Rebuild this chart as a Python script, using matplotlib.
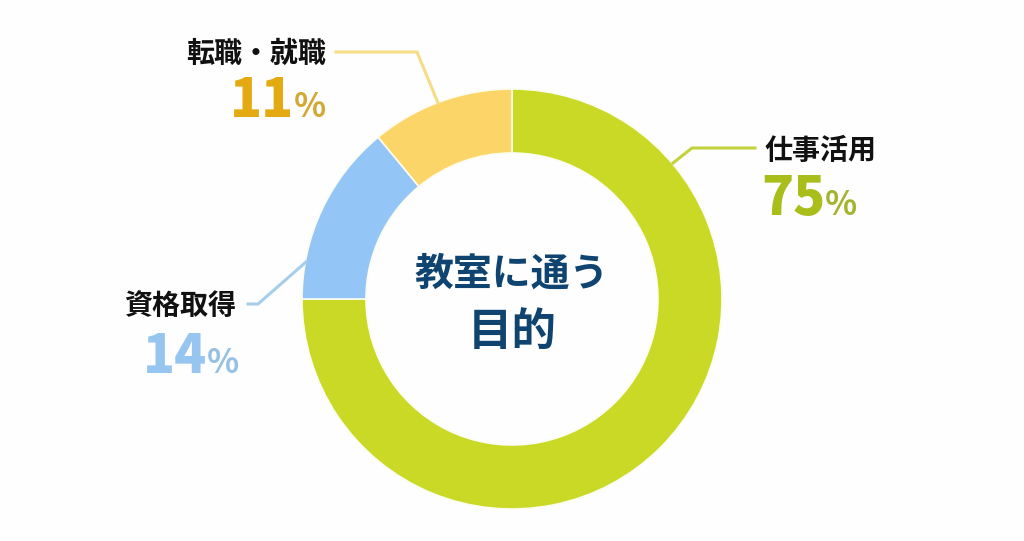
import matplotlib
matplotlib.use('Agg')
import matplotlib.pyplot as plt

plt.rcParams['font.family'] = ['Noto Sans CJK JP', 'DejaVu Sans']

# Data
labels = ['仕事活用', '資格取得', '転職・就職']
values = [75, 14, 11]
colors = ['#C9D925', '#93C5F6', '#FBD568']
num_colors = ['#A9BD1B', '#96C5EF', '#E3AA12']
pct_colors = ['#A3B42F', '#96C0E4', '#D3A935']
line_colors = ['#C3D23C', '#A6CDEA', '#F6DC85']

center_lines = ['教室に通う', '目的']

W, H = 1024, 541
BG = '#FDFEFD'
NAVY = '#0F4470'


def py(y):
    # picture y (from top) to axes y
    return H - y


fig = plt.figure(figsize=(W / 100, H / 100), dpi=100, facecolor=BG)
ax = fig.add_axes([0, 0, 1, 1])

# Donut
R_OUT = 210
R_IN = 146
ax.pie(values, colors=colors, startangle=90, counterclock=False,
       center=(512, py(299)), radius=R_OUT, frame=True,
       wedgeprops=dict(width=R_OUT - R_IN, edgecolor='#FBFDF0', linewidth=1.2))
ax.set_xlim(0, W)
ax.set_ylim(0, H)
ax.set_aspect('auto')
ax.axis('off')

# Leader lines and labels, same order as the data
leaders = [
    [(755, 148), (692, 148), (673, 163)],
    [(248, 304), (258, 304), (306, 262)],
    [(336, 52), (417, 52), (438, 103)],
]
label_pos = [(877, 151), (236, 306), (326, 54)]
pct_pos = [(857, 215), (239, 373), (326, 117)]

for i in range(len(values)):
    xs = [p[0] for p in leaders[i]]
    ys = [py(p[1]) for p in leaders[i]]
    ax.plot(xs, ys, color=line_colors[i], lw=2.2, solid_joinstyle='miter', zorder=1)

    ax.text(label_pos[i][0], py(label_pos[i][1]), labels[i], ha='right', va='center',
            fontsize=20.2, fontweight='bold', color='#111111')

    # big number and smaller percent sign share a baseline
    x, y = pct_pos[i]
    ax.text(x, py(y), '%', ha='right', va='baseline', fontsize=24,
            fontweight='bold', color=pct_colors[i])
    ax.text(x - 32, py(y), str(values[i]), ha='right', va='baseline', fontsize=38,
            fontweight='black', color=num_colors[i])

# Centre title
ax.text(512, py(274), center_lines[0], ha='center', va='center', fontsize=28,
        fontweight='bold', color=NAVY)
ax.text(512, py(332), center_lines[1], ha='center', va='center', fontsize=32,
        fontweight='bold', color=NAVY)

fig.savefig('out.png', dpi=100, facecolor=BG)
